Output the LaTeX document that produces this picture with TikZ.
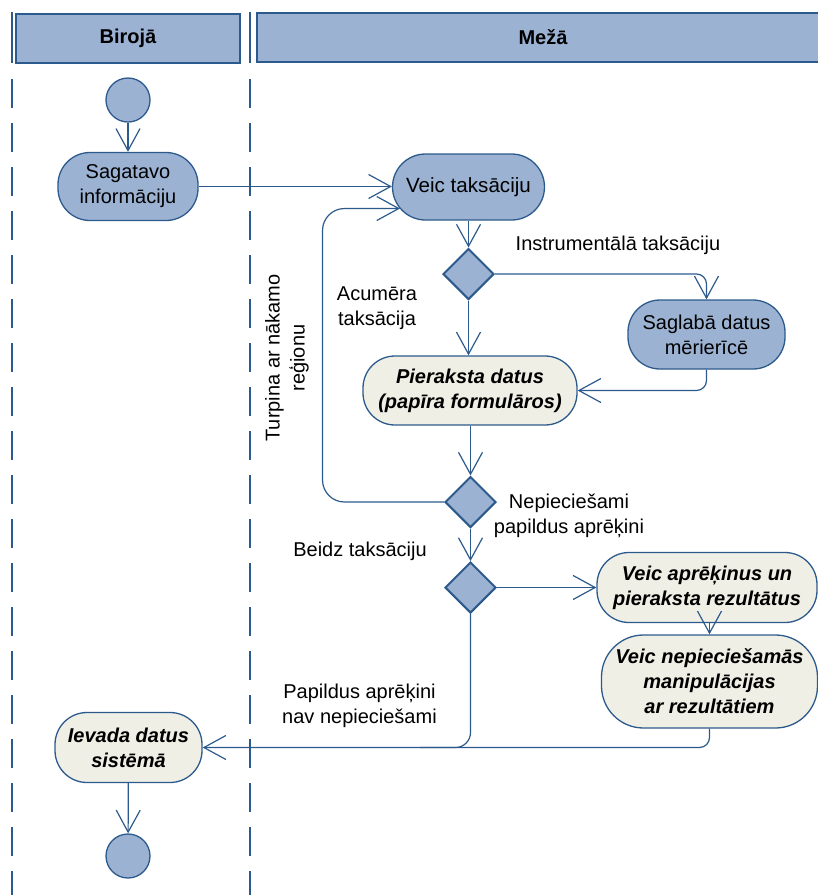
\documentclass[tikz,border=0pt]{standalone}
\usepackage{fontspec}
\setmainfont{Liberation Sans}
\usetikzlibrary{arrows.meta,shapes.geometric,calc}
\definecolor{laneblue}{RGB}{45,90,140}
\definecolor{fillblue}{RGB}{155,178,211}
\definecolor{fillpale}{RGB}{239,239,229}
\begin{document}
\begin{tikzpicture}[x=1pt,y=-1pt,
  every node/.style={font=\fontsize{20}{25}\selectfont},
  lane/.style={draw=laneblue,line width=2pt},
  header/.style={draw=laneblue,line width=2pt,fill=fillblue},
  act/.style={draw=laneblue,line width=1.3pt,fill=fillblue,rounded corners=32pt,
    align=center,inner sep=0pt},
  actpale/.style={act,fill=fillpale,font=\fontsize{20}{25}\selectfont\bfseries\itshape},
  dot/.style={circle,draw=laneblue,line width=1.3pt,fill=fillblue,minimum size=44pt,inner sep=0pt},
  choice/.style={diamond,draw=laneblue,line width=2pt,fill=fillblue,aspect=1,
    minimum width=51pt,minimum height=51pt,inner sep=0pt},
  flow/.style={draw=laneblue,line width=1.2pt,-{Straight Barb[length=22pt,width=24pt]}},
  plain/.style={draw=laneblue,line width=1.2pt},
  lbl/.style={align=center,inner sep=0pt}]
\useasboundingbox (0,0) rectangle (818,895);

% swimlane separators
\foreach \lx in {12,250}{
  \draw[lane] (\lx,12) -- (\lx,63);
  \draw[lane,dash pattern=on 28.7pt off 15.3pt] (\lx,79) -- (\lx,895);
}
% lane headers
\draw[header] (15.5,13.5) rectangle (240,63);
\draw[header] (257,12.5) rectangle (824,62);
\node[font=\fontsize{20}{25}\selectfont\bfseries] (hb) at (128,38) {Birojā};
\node[font=\fontsize{20}{25}\selectfont\bfseries] (hm) at (543,37) {Mežā};

% activities
\node[dot] (start) at (128,100) {};
\node[act,minimum width=140pt,minimum height=68pt] (sag) at (128,186.5) {Sagatavo\\informāciju};
\node[act,minimum width=152pt,minimum height=66pt,rounded corners=33pt,
  font=\fontsize{20.6}{25}\selectfont] (veic) at (468.5,187) {Veic taksāciju};
\node[choice] (d1) at (468.5,274) {};
\node[act,minimum width=157pt,minimum height=69pt] (sav) at (706.5,334.5) {Saglabā datus\\mērierīcē};
\node[actpale,minimum width=214pt,minimum height=69pt] (pier) at (470,390.5) {Pieraksta datus\\(papīra formulāros)};
\node[choice] (d2) at (470.5,502) {};
\node[choice] (d3) at (470.5,587.5) {};
\node[actpale,minimum width=220pt,minimum height=70pt] (apr) at (707,587.5) {Veic aprēķinus un\\pieraksta rezultātus};
\node[actpale,minimum width=216pt,minimum height=93pt,rounded corners=42pt] (man) at (709.5,681.5) {Veic nepieciešamās\\manipulācijas\\ar rezultātiem};
\node[actpale,minimum width=147pt,minimum height=70pt] (iev) at (128.5,747.5) {Ievada datus\\sistēmā};
\node[dot] (end) at (128,856) {};

% connector end on the rounded left end of the survey activity
\coordinate (veicin) at (400,208.5);

% flows
\draw[flow] (start) -- (sag);
\draw[flow] (sag.east) -- (veic.west |- sag.east);
\draw[flow] (veic.south -| d1.north) -- (d1.north);
\draw[flow] (d1.south) -- (pier.north -| d1.south);
\draw[flow,rounded corners=10pt] (d1.east) -- (sav.north |- d1.east) -- (sav.north);
\draw[flow,rounded corners=10pt] (sav.south) -- (sav.south |- pier.east) -- (pier.east);
\draw[flow] (pier.south -| d2.north) -- (d2.north);
\draw[flow,rounded corners=22pt] (d2.west) -- (322.5,502) -- (322.5,208.5) -- (veicin);
\draw[flow] (d2.south) -- (d3.north);
\draw[flow] (d3.east) -- (apr.west);
\draw[flow] (apr.south -| man.north) -- (man.north);
\draw[flow,rounded corners=15pt] (d3.south) -- (d3.south |- iev.east) -- (iev.east);
\draw[plain,rounded corners=10pt] (man.south) -- (man.south |- iev.east) -- (iev.east -| 420,0);
\draw[flow] (iev) -- (end);

% guard labels
\node[lbl] (linstr) at (618,245) {Instrumentālā taksāciju};
\node[lbl] (lacu) at (377,308) {Acumēra\\taksācija};
\node[lbl,rotate=90] (lturp) at (287,358) {Turpina ar nākamo\\reģionu};
\node[lbl] (lnep) at (569,516) {Nepieciešami\\papildus aprēķini};
\node[lbl] (lbeidz) at (360,551) {Beidz taksāciju};
\node[lbl] (lpap) at (359.5,706) {Papildus aprēķini\\nav nepieciešami};
\end{tikzpicture}
\end{document}
